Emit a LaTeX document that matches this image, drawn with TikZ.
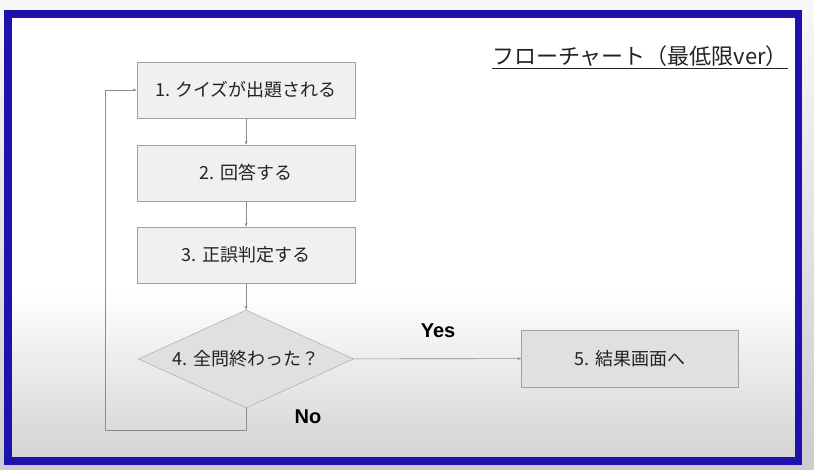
\documentclass[tikz,border=0pt]{standalone}
\usepackage{fontspec}
\setmainfont{Noto Sans CJK JP}
\newfontfamily\yesnofont{Liberation Sans}
\usepackage{xcolor}
\usetikzlibrary{arrows.meta}
\usetikzlibrary{shapes.geometric}

\definecolor{framebl}{RGB}{30,18,172}
\definecolor{boxline}{RGB}{160,160,160}
\definecolor{txtgray}{RGB}{35,35,35}

\begin{document}
\begin{tikzpicture}[x=1pt,y=-1pt,
  stepbox/.style={draw=boxline, fill=black!6, minimum width=218pt, minimum height=56pt,
    inner sep=0pt, text=txtgray, font=\fontsize{18}{21}\selectfont},
  flow/.style={draw=black!45, line width=0.6pt, -{Stealth[length=4pt,width=3pt]}}]
\useasboundingbox (0,0) rectangle (814,470);

\shade[top color=black!3, bottom color=black!20] (0,0) rectangle (814,470);
\fill[white] (8,18) rectangle (795,290);
\shade[top color=white, bottom color=black!17] (8,290) rectangle (795,457);
\draw[framebl, line width=7.5pt] (8,14) rectangle (798.5,461);

\node[txtgray, font=\fontsize{22}{25}\selectfont] (title) at (640,57) {\underline{フローチャート（最低限ver）}};

\node[stepbox] (q1) at (246,90) {1. クイズが出題される};
\node[stepbox] (q2) at (246,173) {2. 回答する};
\node[stepbox] (q3) at (246,255) {3. 正誤判定する};
\node[stepbox, diamond, fill=black!12, minimum width=215pt, minimum height=98pt, aspect=2.2]
  (q4) at (246,359) {4. 全問終わった？};
\node[stepbox, fill=black!12, minimum width=217pt, minimum height=57pt] (q5) at (630,358.5) {5. 結果画面へ};

\coordinate (loopbl) at (105,430);

\draw[flow] (q1) -- (q2);
\draw[flow] (q2) -- (q3);
\draw[flow] (q3) -- (q4);
\draw[flow] (q4) -- (q5);
\draw[flow] (q4.south) |- (loopbl) |- (q1.west);

\node[font=\yesnofont\bfseries\fontsize{20}{23}\selectfont] (yes) at (438,331) {Yes};
\node[font=\yesnofont\bfseries\fontsize{20}{23}\selectfont] (no) at (308,417) {No};

\end{tikzpicture}
\end{document}
